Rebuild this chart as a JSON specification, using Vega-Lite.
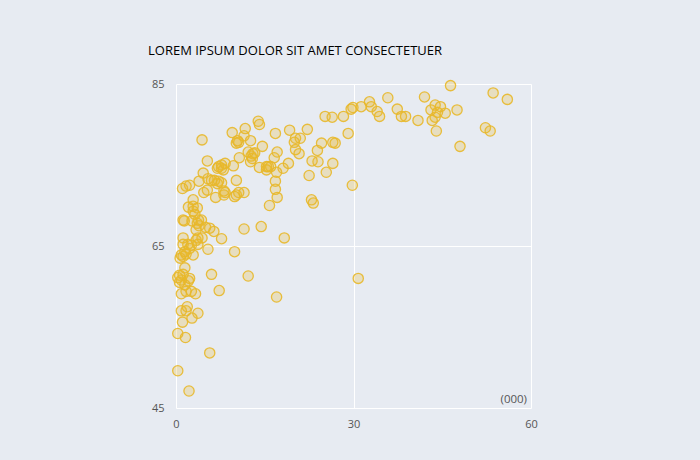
{
  "$schema": "https://vega.github.io/schema/vega-lite/v6.json",
  "width": 355,
  "height": 324,
  "autosize": {"type": "none"},
  "padding": {"left": 176, "top": 84, "right": 169, "bottom": 52},
  "background": "#e7ebf2",
  "config": {
    "view": {"stroke": null},
    "font": "Open Sans",
    "axis": {
      "domain": false,
      "ticks": false,
      "grid": true,
      "gridColor": "#ffffff",
      "gridWidth": 1,
      "labelFont": "Open Sans",
      "labelFontSize": 11,
      "labelColor": "#555555",
      "labelFlush": false,
      "title": null
    }
  },
  "title": {
    "text": "LOREM IPSUM DOLOR SIT AMET CONSECTETUER",
    "anchor": "start",
    "frame": "group",
    "dx": -28,
    "offset": 20,
    "font": "Open Sans",
    "fontSize": 13,
    "fontWeight": "normal",
    "color": "#000000"
  },
  "data": {
    "values": [
      {"x": 46.4, "y": 84.8}, {"x": 53.6, "y": 83.9}, {"x": 56.0, "y": 83.1}, {"x": 42.0, "y": 83.4},
      {"x": 35.8, "y": 83.3}, {"x": 32.7, "y": 82.8}, {"x": 33.0, "y": 82.2}, {"x": 31.3, "y": 82.2},
      {"x": 29.9, "y": 82.1}, {"x": 29.6, "y": 81.9}, {"x": 28.3, "y": 81.0}, {"x": 26.4, "y": 80.9},
      {"x": 34.0, "y": 81.6}, {"x": 34.4, "y": 81.0}, {"x": 37.4, "y": 81.9}, {"x": 38.1, "y": 81.0},
      {"x": 38.8, "y": 81.0}, {"x": 40.9, "y": 80.5}, {"x": 43.1, "y": 81.8}, {"x": 43.8, "y": 82.4},
      {"x": 44.7, "y": 82.2}, {"x": 44.2, "y": 81.5}, {"x": 45.5, "y": 81.4}, {"x": 43.8, "y": 80.9},
      {"x": 43.3, "y": 80.5}, {"x": 47.5, "y": 81.8}, {"x": 44.0, "y": 79.2}, {"x": 52.3, "y": 79.6},
      {"x": 53.1, "y": 79.2}, {"x": 48.0, "y": 77.3}, {"x": 29.1, "y": 78.9}, {"x": 26.5, "y": 77.8},
      {"x": 26.9, "y": 77.7}, {"x": 26.5, "y": 75.2}, {"x": 29.8, "y": 72.5}, {"x": 18.3, "y": 66.0},
      {"x": 30.8, "y": 61.0}, {"x": 17.0, "y": 58.7}, {"x": 23.2, "y": 70.3}, {"x": 22.9, "y": 70.7},
      {"x": 15.8, "y": 70.0}, {"x": 17.1, "y": 71.0}, {"x": 25.2, "y": 81.0}, {"x": 16.8, "y": 78.9},
      {"x": 19.2, "y": 79.3}, {"x": 22.2, "y": 79.4}, {"x": 20.2, "y": 78.3}, {"x": 21.0, "y": 78.3},
      {"x": 20.0, "y": 77.8}, {"x": 24.6, "y": 77.7}, {"x": 17.1, "y": 76.6}, {"x": 20.2, "y": 76.9},
      {"x": 20.8, "y": 76.4}, {"x": 23.9, "y": 76.8}, {"x": 16.6, "y": 75.9}, {"x": 19.0, "y": 75.2},
      {"x": 23.0, "y": 75.5}, {"x": 24.0, "y": 75.4}, {"x": 18.1, "y": 74.6}, {"x": 17.0, "y": 74.1},
      {"x": 25.4, "y": 74.1}, {"x": 22.5, "y": 73.7}, {"x": 16.8, "y": 73.0}, {"x": 16.8, "y": 72.0},
      {"x": 13.9, "y": 80.4}, {"x": 14.1, "y": 80.0}, {"x": 11.7, "y": 79.5}, {"x": 9.5, "y": 79.0},
      {"x": 11.5, "y": 78.6}, {"x": 12.6, "y": 78.0}, {"x": 10.4, "y": 78.0}, {"x": 10.6, "y": 77.8},
      {"x": 10.2, "y": 77.7}, {"x": 14.6, "y": 77.3}, {"x": 4.4, "y": 78.1}, {"x": 12.2, "y": 76.6},
      {"x": 13.0, "y": 76.4}, {"x": 13.3, "y": 76.5}, {"x": 12.7, "y": 76.1}, {"x": 12.6, "y": 75.4},
      {"x": 12.9, "y": 75.8}, {"x": 10.7, "y": 75.9}, {"x": 5.3, "y": 75.5}, {"x": 14.1, "y": 74.7},
      {"x": 15.3, "y": 74.8}, {"x": 15.6, "y": 74.8}, {"x": 15.3, "y": 74.4}, {"x": 16.0, "y": 74.8},
      {"x": 8.3, "y": 75.2}, {"x": 7.7, "y": 75.0}, {"x": 7.2, "y": 74.8}, {"x": 7.7, "y": 74.6},
      {"x": 7.0, "y": 74.6}, {"x": 8.0, "y": 74.4}, {"x": 9.7, "y": 74.9}, {"x": 4.6, "y": 74.0},
      {"x": 3.9, "y": 73.0}, {"x": 5.4, "y": 73.3}, {"x": 6.0, "y": 73.1}, {"x": 6.5, "y": 73.1},
      {"x": 7.2, "y": 73.0}, {"x": 7.7, "y": 72.8}, {"x": 7.0, "y": 72.7}, {"x": 10.2, "y": 73.1},
      {"x": 1.1, "y": 72.1}, {"x": 1.7, "y": 72.4}, {"x": 2.3, "y": 72.5}, {"x": 5.3, "y": 71.9},
      {"x": 4.7, "y": 71.6}, {"x": 8.1, "y": 71.8}, {"x": 8.3, "y": 71.6}, {"x": 8.1, "y": 71.3},
      {"x": 10.6, "y": 71.6}, {"x": 11.5, "y": 71.6}, {"x": 10.2, "y": 71.3}, {"x": 9.9, "y": 71.1},
      {"x": 6.7, "y": 71.0}, {"x": 2.9, "y": 70.7}, {"x": 2.1, "y": 69.8}, {"x": 2.9, "y": 69.9},
      {"x": 3.6, "y": 69.7}, {"x": 2.9, "y": 69.3}, {"x": 3.2, "y": 68.9}, {"x": 1.2, "y": 68.2},
      {"x": 1.4, "y": 68.1}, {"x": 2.7, "y": 68.1}, {"x": 3.8, "y": 68.2}, {"x": 4.3, "y": 68.2},
      {"x": 3.6, "y": 67.8}, {"x": 3.9, "y": 67.5}, {"x": 5.0, "y": 67.3}, {"x": 5.7, "y": 67.2},
      {"x": 6.4, "y": 66.8}, {"x": 3.4, "y": 67.0}, {"x": 4.4, "y": 66.0}, {"x": 3.7, "y": 66.0},
      {"x": 3.4, "y": 65.7}, {"x": 7.7, "y": 65.9}, {"x": 11.5, "y": 67.1}, {"x": 14.4, "y": 67.4},
      {"x": 1.2, "y": 66.0}, {"x": 1.2, "y": 65.2}, {"x": 2.0, "y": 65.2}, {"x": 2.6, "y": 65.1},
      {"x": 2.3, "y": 64.7}, {"x": 3.7, "y": 65.2}, {"x": 5.4, "y": 64.6}, {"x": 9.9, "y": 64.3},
      {"x": 1.5, "y": 64.3}, {"x": 0.9, "y": 63.9}, {"x": 0.7, "y": 63.5}, {"x": 1.2, "y": 63.7},
      {"x": 2.9, "y": 63.9}, {"x": 1.7, "y": 64.0}, {"x": 1.5, "y": 62.3}, {"x": 6.0, "y": 61.5},
      {"x": 12.2, "y": 61.3}, {"x": 0.6, "y": 61.4}, {"x": 1.2, "y": 61.5}, {"x": 0.3, "y": 61.1},
      {"x": 0.9, "y": 60.8}, {"x": 2.3, "y": 61.0}, {"x": 0.6, "y": 60.5}, {"x": 1.5, "y": 60.2},
      {"x": 2.1, "y": 60.7}, {"x": 0.9, "y": 59.1}, {"x": 1.7, "y": 59.4}, {"x": 2.6, "y": 59.4},
      {"x": 3.3, "y": 59.1}, {"x": 7.3, "y": 59.5}, {"x": 0.9, "y": 57.0}, {"x": 1.9, "y": 57.5},
      {"x": 1.7, "y": 57.0}, {"x": 3.7, "y": 56.7}, {"x": 2.7, "y": 56.1}, {"x": 1.1, "y": 55.6},
      {"x": 0.3, "y": 54.2}, {"x": 1.6, "y": 53.7}, {"x": 5.7, "y": 51.8}, {"x": 0.3, "y": 49.6},
      {"x": 2.2, "y": 47.1}
    ]
  },
  "layer": [
    {
      "mark": {
        "type": "point",
        "shape": "circle",
        "filled": false,
        "size": 105,
        "stroke": "#e8b82a",
        "strokeWidth": 1.3,
        "fill": "#e8b82a",
        "fillOpacity": 0.25,
        "strokeOpacity": 0.9
      },
      "encoding": {
        "x": {
          "field": "x",
          "type": "quantitative",
          "scale": {"domain": [0, 60], "nice": false, "zero": false},
          "axis": {"values": [0, 30, 60], "labelPadding": 10}
        },
        "y": {
          "field": "y",
          "type": "quantitative",
          "scale": {"domain": [45, 85], "nice": false, "zero": false},
          "axis": {"values": [45, 65, 85], "labelPadding": 12}
        }
      }
    },
    {
      "data": {"values": [{"x": 60, "y": 45, "label": "(000)"}]},
      "mark": {
        "type": "text",
        "align": "right",
        "baseline": "bottom",
        "dx": -4,
        "dy": -3,
        "font": "Open Sans",
        "fontSize": 11.5,
        "color": "#555555"
      },
      "encoding": {
        "x": {"field": "x", "type": "quantitative"},
        "y": {"field": "y", "type": "quantitative"},
        "text": {"field": "label"}
      }
    }
  ]
}
